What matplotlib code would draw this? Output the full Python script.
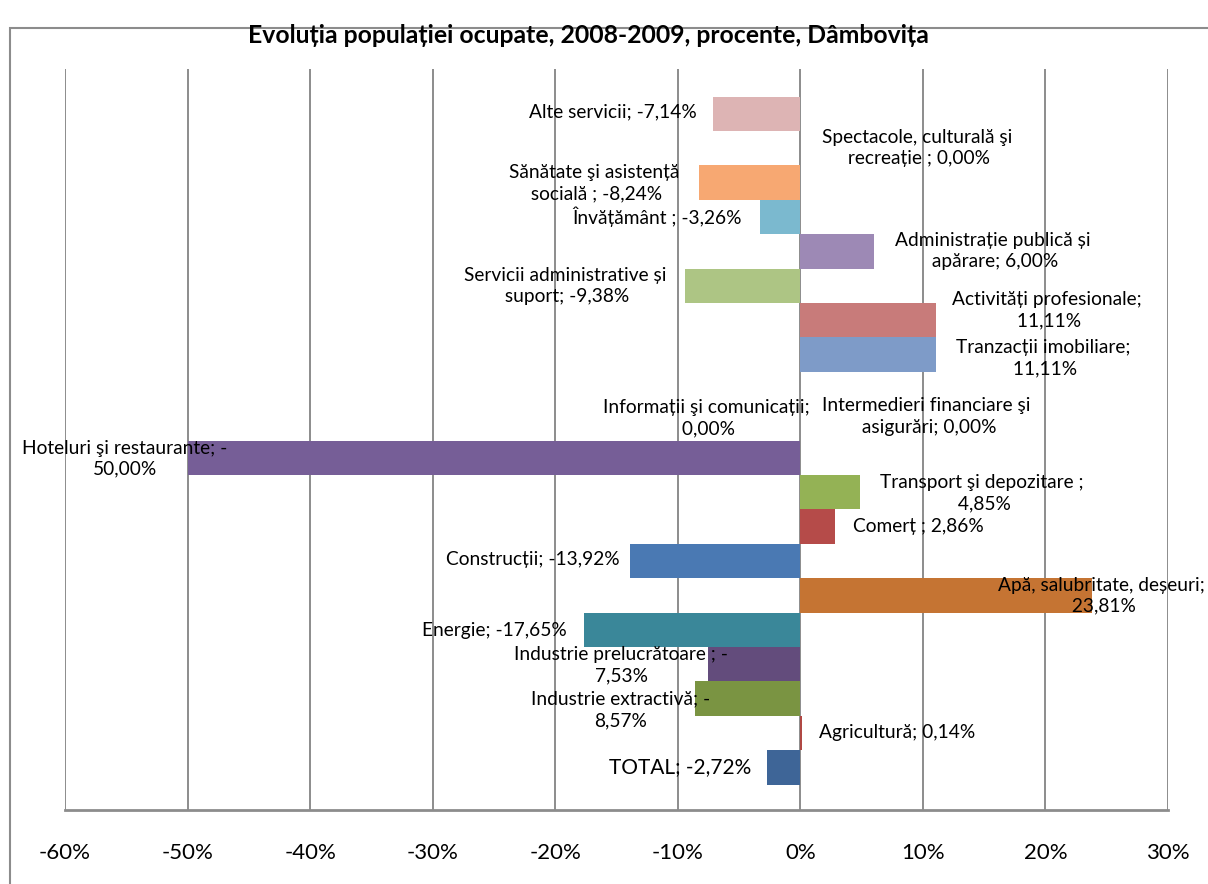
import matplotlib
matplotlib.use("Agg")
import matplotlib.pyplot as plt
from matplotlib.patches import Rectangle

plt.rcParams['font.family'] = ['Lato', 'DejaVu Sans']

# data, bottom to top
names = ["TOTAL", "Agricultură", "Industrie extractivă", "Industrie prelucrătoare ",
         "Energie", "Apă, salubritate, deșeuri", "Construcții", "Comerț ",
         "Transport şi depozitare ", "Hoteluri şi restaurante", "Informații şi comunicații",
         "Intermedieri financiare şi asigurări", "Tranzacții imobiliare",
         "Activități profesionale", "Servicii administrative și suport",
         "Administrație publică și apărare", "Învățământ ",
         "Sănătate şi asistență socială ", "Spectacole, culturală şi recreație ",
         "Alte servicii"]
values = [-2.72, 0.14, -8.57, -7.53, -17.65, 23.81, -13.92, 2.86, 4.85, -50.00,
          0.00, 0.00, 11.11, 11.11, -9.38, 6.00, -3.26, -8.24, 0.00, -7.14]
colors = ["#3E6597", "#B04844", "#7A9442", "#634C7C", "#3A8799", "#C57433",
          "#4A79B3", "#B54B49", "#94B255", "#765E97", "#4F81BD", "#C0504D",
          "#7E9BC8", "#C87B7A", "#ADC584", "#9D89B5", "#7BB9CF", "#F7A872",
          "#9BBB59", "#DDB4B4"]
ticks = [-60, -50, -40, -30, -20, -10, 0, 10, 20, 30]

# where the label wraps, and where it sits (data coords)
wrap_after = [None, None, "; -", "; -", None, ";", None, None, " ;", "; -", ";",
              "şi", ";", ";", "și", "și", None, "asistență", "şi", None]
label_xy = [(-9.8, 0.0), (7.9, 1.0), (-14.7, 1.67), (-14.6, 2.98), (-25.0, 3.97),
            (24.6, 4.99), (-21.8, 6.03), (9.6, 7.0), (14.8, 7.98), (-55.1, 8.97),
            (-7.7, 10.16), (10.3, 10.2), (19.8, 11.9), (20.1, 13.3), (-19.2, 14.0),
            (15.7, 15.0), (-11.7, 16.0), (-16.8, 16.99), (9.5, 18.0), (-15.3, 19.05)]

fig = plt.figure(figsize=(12.08, 8.84), dpi=100)
ax = fig.add_axes([65/1208, 74/884, 1103/1208, 741/884])

pos = list(range(len(values)))
ax.barh(pos, values, height=1.0, color=colors, zorder=3)

ax.set_xlim(-60, 30)
ax.set_ylim(-1.24, 20.3)
ax.set_xticks(ticks)
ax.set_xticklabels([f"{t}%" for t in ticks], fontsize=16)
ax.set_yticks([])
ax.tick_params(axis='x', length=0, pad=24)
ax.grid(axis='x', color='#8C8C8C', linewidth=1.4, zorder=1)
for s in ['top', 'right', 'left']:
    ax.spines[s].set_visible(False)
ax.spines['bottom'].set_color('#8C8C8C')
ax.spines['bottom'].set_linewidth(2)

for i, (n, v) in enumerate(zip(names, values)):
    txt = f"{n}; " + f"{v:.2f}".replace('.', ',') + "%"
    if wrap_after[i]:
        txt = txt.replace(wrap_after[i], wrap_after[i] + "\n", 1)
    x, y = label_xy[i]
    ax.text(x, y, txt, ha='center', va='center', multialignment='center',
            fontsize=15 if n == "TOTAL" else 13.8, linespacing=1.3, zorder=4)

fig.text(0.487, 0.960, "Evoluția populației ocupate, 2008-2009, procente, Dâmbovița",
         ha='center', va='center', fontsize=17.8, fontweight='bold')
fig.patches.append(Rectangle((10/1208, -0.1), 1.2, 1.1 - 28/884,
                             transform=fig.transFigure, fill=False,
                             edgecolor='#8C8C8C', linewidth=1.5))

plt.savefig("out.png", dpi=100)
